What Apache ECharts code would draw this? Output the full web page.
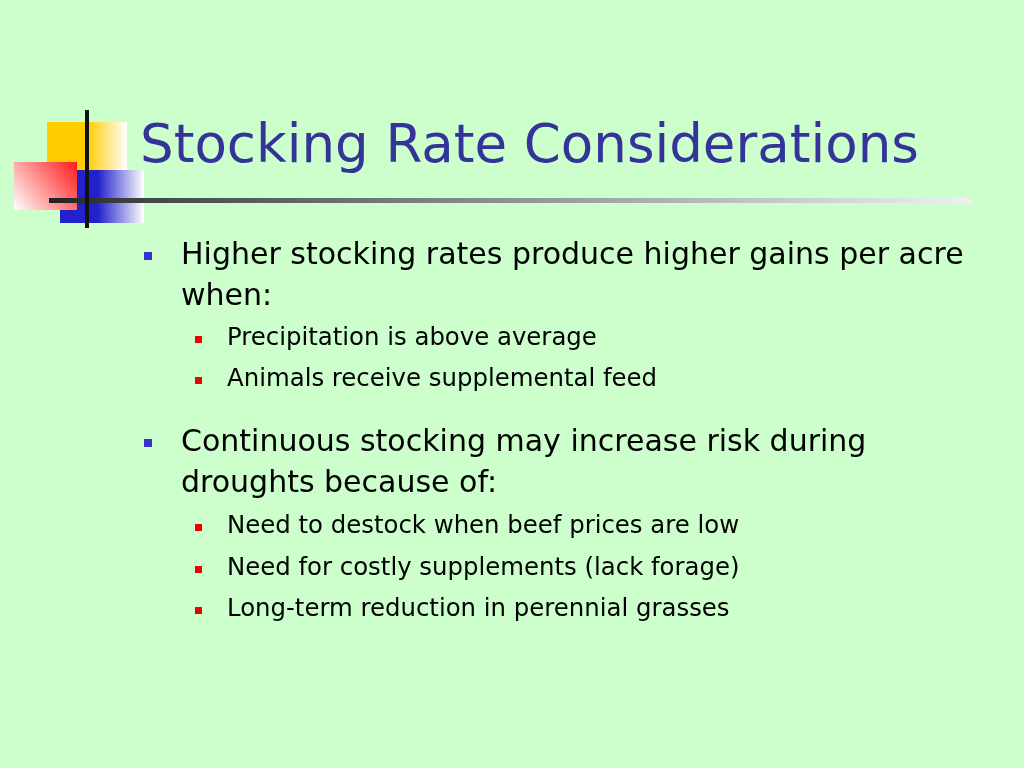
<!DOCTYPE html>
<html>
<head>
<meta charset="utf-8">
<script src="https://cdn.jsdelivr.net/npm/echarts@6/dist/echarts.min.js"></script>
<style>html,body{margin:0;height:100%;background:#ccffcc}#c{width:1024px;height:768px}</style>
</head>
<body>
<div id="c"></div>
<script>
// slide content
var title = 'Stocking Rate Considerations';
var lines = [
    {level: 1, y: 256, text: 'Higher stocking rates produce higher gains per acre'},
    {level: 0, y: 297, text: 'when:'},
    {level: 2, y: 339, text: 'Precipitation is above average'},
    {level: 2, y: 380, text: 'Animals receive supplemental feed'},
    {level: 1, y: 443, text: 'Continuous stocking may increase risk during'},
    {level: 0, y: 484, text: 'droughts because of:'},
    {level: 2, y: 527, text: 'Need to destock when beef prices are low'},
    {level: 2, y: 569, text: 'Need for costly supplements (lack forage)'},
    {level: 2, y: 610, text: 'Long-term reduction in perennial grasses'}
];

var font = 'Tahoma, "DejaVu Sans", Verdana, sans-serif';
var els = [
    {type: 'rect', shape: {x: 47, y: 122, width: 80, height: 48},
        style: {fill: new echarts.graphic.LinearGradient(0, 0, 1, 0, [
            {offset: 0, color: '#ffcc00'}, {offset: 0.5, color: '#ffcc00'}, {offset: 1, color: '#ffffff'}])}},
    {type: 'rect', shape: {x: 60, y: 170, width: 84, height: 53},
        style: {fill: new echarts.graphic.LinearGradient(0, 0, 1, 0, [
            {offset: 0, color: '#2222cc'}, {offset: 0.45, color: '#2222cc'}, {offset: 1, color: '#ffffff'}])}},
    {type: 'rect', shape: {x: 14, y: 162, width: 63, height: 48},
        style: {fill: new echarts.graphic.LinearGradient(1, 0, 0, 1, [
            {offset: 0, color: '#ff1a1a'}, {offset: 1, color: '#ffffff'}])}},
    {type: 'rect', shape: {x: 49, y: 198, width: 922, height: 5},
        style: {fill: new echarts.graphic.LinearGradient(0, 0, 1, 0, [
            {offset: 0, color: '#222222'}, {offset: 0.1, color: '#444444'}, {offset: 1, color: '#f0f0f0'}])}},
    {type: 'rect', shape: {x: 85, y: 110, width: 4, height: 118}, style: {fill: '#111111'}},
    {type: 'text', x: 140, y: 148, style: {text: title, font: '53px ' + font, fill: '#333399', verticalAlign: 'middle'}}
];

lines.forEach(function (l) {
    var big = l.level < 2;
    var tx = big ? 181 : 227;
    if (l.level === 1) {
        els.push({type: 'rect', shape: {x: 144, y: l.y - 4, width: 8, height: 8}, style: {fill: '#3333cc'}});
    } else if (l.level === 2) {
        els.push({type: 'rect', shape: {x: 195, y: l.y - 3, width: 7, height: 7}, style: {fill: '#ee0000'}});
    }
    els.push({type: 'text', x: tx, y: l.y, style: {
        text: l.text, font: (big ? '30px ' : '24.4px ') + font, fill: '#000000', verticalAlign: 'middle'}});
});

var chart = echarts.init(document.getElementById('c'));
chart.setOption({backgroundColor: '#ccffcc', animation: false, graphic: {elements: els}});
</script>
</body>
</html>
